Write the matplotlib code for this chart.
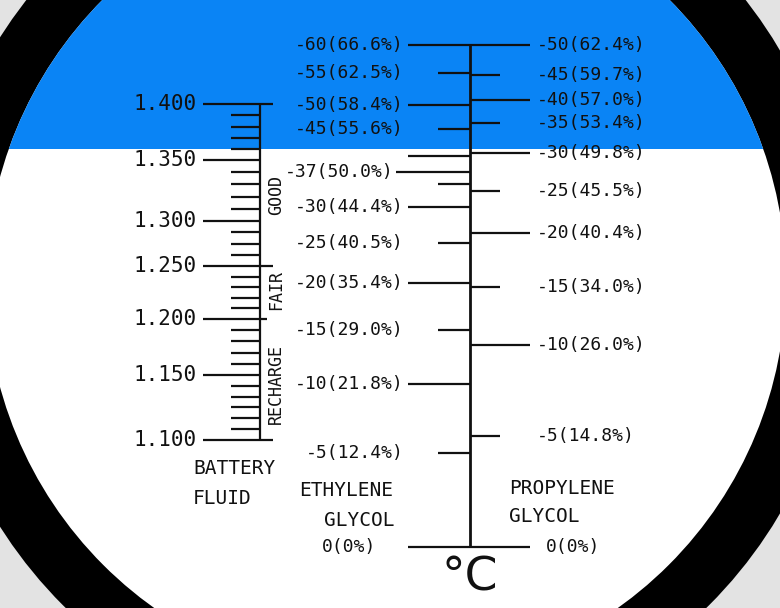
import matplotlib.pyplot as plt
from matplotlib.patches import Circle, Rectangle

# reticle scale position: 0 = 0 C line, 100 = top line
eth_temp = [-60, -55, -50, -45, -40, -37, -35, -30, -25, -20, -15, -10, -5, 0]
eth_pct = [66.6, 62.5, 58.4, 55.6, None, 50.0, None, 44.4, 40.5, 35.4, 29.0, 21.8, 12.4, 0]
eth_pos = [100.0, 94.4, 88.0, 83.3, 77.9, 74.7, 72.3, 67.7, 60.6, 52.6, 43.2, 32.5, 18.7, 0.0]

pro_temp = [-50, -45, -40, -35, -30, -25, -20, -15, -10, -5, 0]
pro_pct = [62.4, 59.7, 57.0, 53.4, 49.8, 45.5, 40.4, 34.0, 26.0, 14.8, 0]
pro_pos = [100.0, 94.0, 89.0, 84.5, 78.5, 70.9, 62.5, 51.8, 40.2, 22.1, 0.0]

bat_sg = [1.400, 1.350, 1.300, 1.250, 1.200, 1.150, 1.100]
bat_pos = [88.2, 77.1, 64.9, 56.0, 45.4, 34.3, 21.3]
bat_minor = [4, 4, 3, 4, 4, 5]  # minor divisions between majors

ink = "#111111"
mono = "DejaVu Sans Mono"

fig = plt.figure(figsize=(7.8, 6.08), dpi=100)
fig.patch.set_facecolor("#e3e3e3")

# background: eyepiece view
bg = fig.add_axes([0, 0, 1, 1])
bg.set_xlim(0, 780)
bg.set_ylim(608, 0)
bg.axis("off")
bg.add_patch(Circle((386, 282), 457, fc="black", ec="none"))
disk = Circle((386, 282), 400, fc="white", ec="none")
bg.add_patch(disk)
blue = Rectangle((0, 0), 780, 149, fc="#0a84f5", ec="none")
bg.add_patch(blue)
blue.set_clip_path(disk)

# scale axes
ax = fig.add_axes([0, 0, 1, 1], facecolor="none")
ax.set_xlim(0, 780)
ax.set_ylim(-12.15, 108.96)
ax.axis("off")

lw = 1.6
xc = 470
ax.vlines(xc, 0, 100, color=ink, lw=2)

# ethylene glycol side (left)
for t, p, y in zip(eth_temp, eth_pct, eth_pos):
    long = t % 10 == 0 or t == -37
    if t == -37:
        x0 = 396
    elif long:
        x0 = 408
    else:
        x0 = 438
    ax.hlines(y, x0, xc, color=ink, lw=lw)
    if p is None or t == 0:
        continue
    ax.text(x0 - 2 if t == -37 else 404, y, f"{t}({p:.1f}%)", ha="right", va="center",
            family=mono, fontsize=13, color=ink)

# propylene glycol side (right)
for t, p, y in zip(pro_temp, pro_pct, pro_pos):
    x1 = 530 if t % 10 == 0 else 500
    ax.hlines(y, xc, x1, color=ink, lw=lw)
    if t == 0:
        continue
    ax.text(537, y, f"{t}({p:.1f}%)", ha="left", va="center",
            family=mono, fontsize=13, color=ink)

ax.text(546, 0, "0(0%)", ha="left", va="center", family=mono, fontsize=13, color=ink)
ax.text(322, 0, "0(0%)", ha="left", va="center", family=mono, fontsize=13, color=ink)

# battery fluid scale
bx = 260
ax.vlines(bx, bat_pos[-1], bat_pos[0], color=ink, lw=lw)
for i, (s, y) in enumerate(zip(bat_sg, bat_pos)):
    if s in (1.400, 1.250, 1.100):
        x1 = 273
    elif s == 1.200:
        x1 = 267
    else:
        x1 = bx
    ax.hlines(y, 203, x1, color=ink, lw=lw)
    ax.text(197, y, f"{s:.3f}", ha="right", va="center", family=mono,
            fontsize=15, color=ink)
    if i < len(bat_minor):
        n = bat_minor[i]
        step = (bat_pos[i + 1] - y) / (n + 1)
        for k in range(1, n + 1):
            ax.hlines(y + k * step, 231, bx, color=ink, lw=lw)

# zone and scale names
for txt, yy in [("GOOD", 195), ("FAIR", 290), ("RECHARGE", 384)]:
    bg.text(276, yy, txt, rotation=90, ha="center", va="center", family=mono,
            fontsize=12, color=ink)

bg.text(193, 469, "BATTERY", ha="left", va="center", family=mono, fontsize=14, color=ink)
bg.text(193, 498, "FLUID", ha="left", va="center", family=mono, fontsize=14, color=ink)
bg.text(299, 491, "ETHYLENE", ha="left", va="center", family=mono, fontsize=14, color=ink)
bg.text(324, 521, "GLYCOL", ha="left", va="center", family=mono, fontsize=14, color=ink)
bg.text(509, 488, "PROPYLENE", ha="left", va="center", family=mono, fontsize=14, color=ink)
bg.text(509, 517, "GLYCOL", ha="left", va="center", family=mono, fontsize=14, color=ink)
bg.text(470, 578, "°C", ha="center", va="center", fontsize=34, color=ink)

fig.savefig("out.png", dpi=100, facecolor=fig.get_facecolor())
